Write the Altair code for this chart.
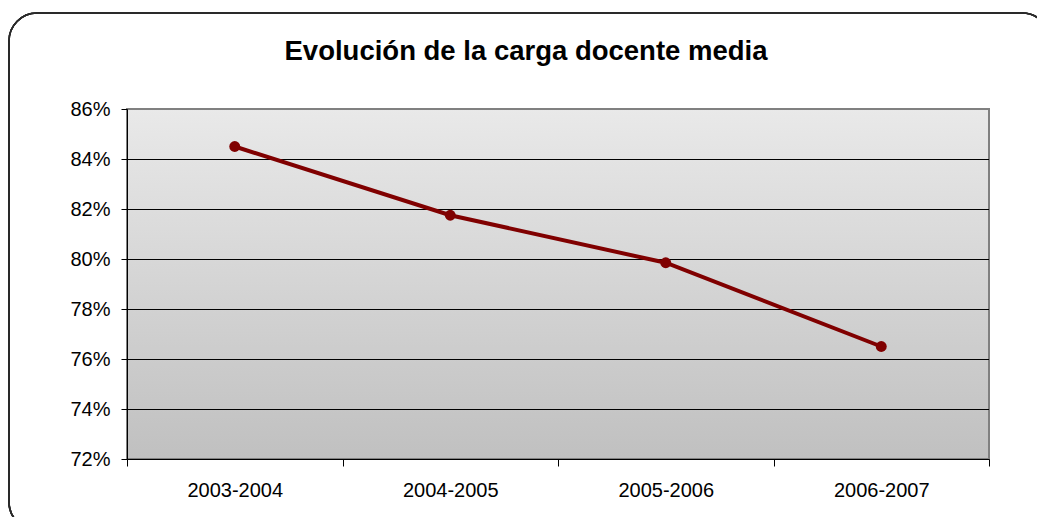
import altair as alt
import pandas as pd

categories = ["2003-2004", "2004-2005", "2005-2006", "2006-2007"]
values = [0.845, 0.8175, 0.7985, 0.765]
y_ticks = [0.72, 0.74, 0.76, 0.78, 0.80, 0.82, 0.84, 0.86]
grid_values = [0.74, 0.76, 0.78, 0.80, 0.82, 0.84]
title_text = "Evolución de la carga docente media"

df = pd.DataFrame({"curso": categories, "carga": values})
grid_df = pd.DataFrame({"carga": grid_values})

W, H = 862, 350
FONT = "Liberation Sans"

y_scale = alt.Scale(domain=[0.72, 0.86], nice=False, zero=False)
y_axis = alt.Axis(
    title=None, values=y_ticks, format=".0%", tickSize=6,
    tickColor="black", domainColor="black", domainWidth=1,
    labelFontSize=20, labelFont=FONT, labelColor="black",
    labelPadding=11, grid=False, zindex=1,
)

x_enc = alt.X(
    "curso:N",
    sort=categories,
    scale=alt.Scale(paddingInner=0, paddingOuter=0),
    axis=alt.Axis(
        title=None, labelAngle=0, tickBand="extent", tickSize=7,
        tickColor="black", domainColor="black", domainWidth=1,
        labelFontSize=20, labelFont=FONT, labelColor="black",
        labelPadding=14, grid=False, zindex=1,
    ),
)
y_enc = alt.Y("carga:Q", scale=y_scale, axis=y_axis)

background = alt.Chart(df).mark_rect(
    fill=alt.Gradient(
        gradient="linear",
        stops=[alt.GradientStop(color="#e9e9e9", offset=0),
               alt.GradientStop(color="#c0c0c0", offset=1)],
        x1=0, x2=0, y1=0, y2=1,
    ),
    stroke="#808080", strokeWidth=2,
).encode(
    x=alt.value(0), x2=alt.value("width"),
    y=alt.value(0), y2=alt.value("height"),
)

grid = alt.Chart(grid_df).mark_rule(color="black", strokeWidth=1, yOffset=0.5).encode(
    y=y_enc,
    x=alt.value(0), x2=alt.value("width"),
)

frame = alt.Chart(df).mark_rect(
    filled=False, stroke="#2a2a2a", strokeWidth=1.6, cornerRadius=28,
).encode(
    x=alt.value(-118), x2=alt.value(W + 61),
    y=alt.value(-96), y2=alt.value(H + 71),
)

line = alt.Chart(df).mark_line(
    color="#800000", strokeWidth=4,
    point=alt.OverlayMarkDef(filled=True, color="#800000", size=120, opacity=1),
).encode(x=x_enc, y=y_enc)

chart = alt.layer(background, grid, line, frame).properties(
    width=W, height=H,
    title=alt.TitleParams(
        title_text, font=FONT, fontSize=27.5, fontWeight="bold", color="black",
        anchor="middle", baseline="alphabetic", offset=-75, dx=-32,
    ),
    autosize=alt.AutoSizeParams(type="none"),
    padding={"left": 119, "top": 101, "right": 48, "bottom": 58},
).configure_view(
    stroke=None,
).configure(background="white")

chart.save("out.html", embed_options={"renderer": "svg", "actions": False})
